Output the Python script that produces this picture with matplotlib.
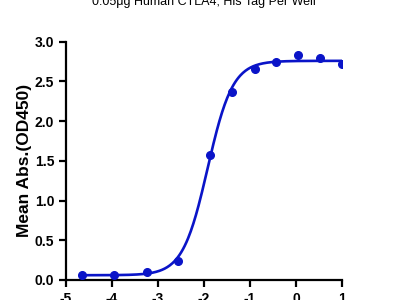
import matplotlib
matplotlib.use('Agg')
import matplotlib.pyplot as plt
import numpy as np

plt.rcParams['font.family'] = ['Liberation Sans', 'DejaVu Sans']

log_conc = [-4.65, -3.95, -3.25, -2.57, -1.86, -1.39, -0.90, -0.43, 0.05, 0.53, 1.0]
od450 = [0.063, 0.065, 0.105, 0.245, 1.57, 2.37, 2.66, 2.74, 2.83, 2.80, 2.72]

# 4PL fit parameters (estimated from the drawn curve)
bottom, top, log_ec50, hill = 0.06, 2.76, -1.92, 1.6

title = "0.05\u03bcg Human CTLA4, His Tag Per Well"
ylabel = "Mean Abs.(OD450)"
blue = '#0a14c8'

fig = plt.figure(figsize=(4, 3), dpi=100)
ax = fig.add_axes([0.165, 0.0667, 0.69, 0.794])

xs = np.linspace(min(log_conc), max(log_conc), 300)
fit = bottom + (top - bottom) / (1 + 10 ** ((log_ec50 - xs) * hill))
ax.plot(xs, fit, color=blue, lw=1.9, zorder=2)
ax.plot(log_conc, od450, 'o', color=blue, ms=5.5, zorder=3)

ax.set_xlim(-5, 1)
ax.set_ylim(0, 3.0)
ax.set_xticks(range(-5, 2))
ax.set_xticklabels([str(v) for v in range(-5, 2)])
ax.set_yticks(np.arange(0, 3.01, 0.5))
ax.set_yticklabels(['%.1f' % v for v in np.arange(0, 3.01, 0.5)])

for s in ['top', 'right']:
    ax.spines[s].set_visible(False)
for s in ['left', 'bottom']:
    ax.spines[s].set_linewidth(1.6)
ax.tick_params(width=1.6, length=5, direction='out', labelsize=10)
for lab in ax.get_yticklabels() + ax.get_xticklabels():
    lab.set_fontweight('bold')

ax.set_ylabel(ylabel, fontsize=12.5, fontweight='bold', labelpad=2)
fig.text(0.51, 0.993, title, ha='center', va='center', fontsize=9)

fig.savefig('out.png', dpi=100)
